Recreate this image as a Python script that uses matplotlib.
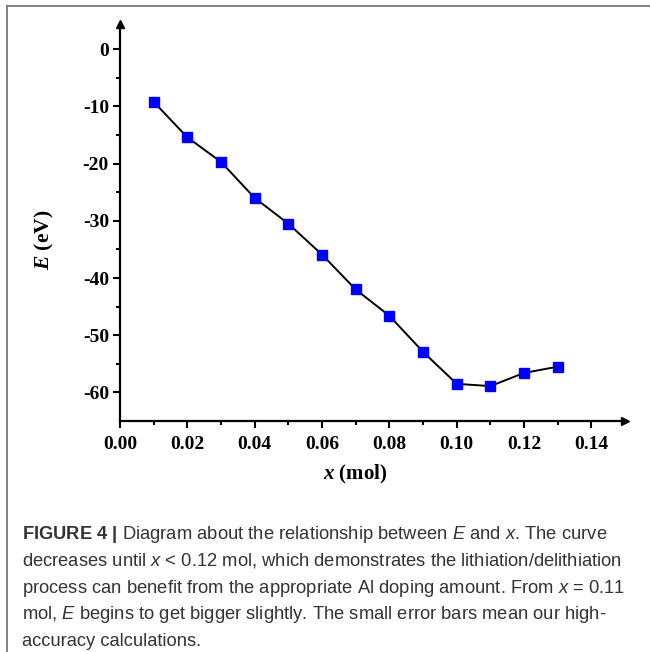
import numpy as np
import matplotlib
matplotlib.use("Agg")
import matplotlib.pyplot as plt
from matplotlib.lines import Line2D
from matplotlib.ticker import FixedLocator

# data
x_mol = [0.01, 0.02, 0.03, 0.04, 0.05, 0.06, 0.07, 0.08, 0.09, 0.10, 0.11, 0.12, 0.13]
E_eV = [-9.2, -15.4, -19.7, -26.0, -30.5, -35.9, -42.0, -46.6, -52.9, -58.5, -58.9, -56.6, -55.5]

y_ticks = [0, -10, -20, -30, -40, -50, -60]
x_ticks = [0.00, 0.02, 0.04, 0.06, 0.08, 0.10, 0.12, 0.14]

caption = [
    r"$\mathbf{FIGURE\ 4\ |}$ Diagram about the relationship between $\mathit{E}$ and $\mathit{x}$. The curve",
    r"decreases until $\mathit{x}$ < 0.12 mol, which demonstrates the lithiation/delithiation",
    r"process can benefit from the appropriate Al doping amount. From $\mathit{x}$ = 0.11",
    r"mol, $\mathit{E}$ begins to get bigger slightly. The small error bars mean our high-",
    r"accuracy calculations.",
]

plt.rcParams['axes.unicode_minus'] = False
plt.rcParams['mathtext.fontset'] = 'custom'
plt.rcParams['mathtext.rm'] = 'Liberation Sans'
plt.rcParams['mathtext.it'] = 'Liberation Sans:italic'
plt.rcParams['mathtext.bf'] = 'Liberation Sans:bold'
plt.rcParams['mathtext.bfit'] = 'Liberation Serif:bold:italic'

W, H = 650, 652
fig = plt.figure(figsize=(W / 100, H / 100), dpi=100)

# axes placed in pixel terms
L, R, T, B = 120, 625, 23.5, 421
ax = fig.add_axes([L / W, 1 - B / H, (R - L) / W, (B - T) / H])

ax.plot(x_mol, E_eV, color='black', lw=1.4, marker='s', ms=6.5,
        mfc='#0000ff', mec='#0000ff', zorder=3)

ax.set_xlim(0, 0.15)
ax.set_ylim(-65, 4.5)
ax.spines['top'].set_visible(False)
ax.spines['right'].set_visible(False)
ax.spines['left'].set_linewidth(1.6)
ax.spines['bottom'].set_linewidth(1.6)

# arrow heads on the axes
ax.plot(1, 0, '>k', ms=6, transform=ax.transAxes, clip_on=False)
ax.plot(0, 1, '^k', ms=6, transform=ax.transAxes, clip_on=False)

ax.set_xticks(x_ticks)
ax.set_xticklabels(['%.2f' % v for v in x_ticks])
ax.set_yticks(y_ticks)
ax.set_yticklabels([str(v) for v in y_ticks])
ax.xaxis.set_minor_locator(FixedLocator(np.arange(0.01, 0.14, 0.02)))
ax.yaxis.set_minor_locator(FixedLocator(np.arange(-55, 0, 10)))
ax.tick_params(which='major', length=5, width=1.5, direction='out')
ax.tick_params(which='minor', length=3, width=1.5, direction='out')
ax.tick_params(axis='x', which='major', pad=6)
ax.tick_params(axis='y', which='major', pad=3)
for lab in ax.get_xticklabels() + ax.get_yticklabels():
    lab.set_fontfamily('Liberation Serif')
    lab.set_fontweight('bold')
    lab.set_fontsize(14)

fig.text(355 / W, 1 - 474 / H, r"$\mathbfit{x}$ (mol)", ha='center', va='center',
         fontfamily='Liberation Serif', fontweight='bold', fontsize=15)
fig.text(44 / W, 1 - 240 / H, r"$\mathbfit{E}$ (eV)", ha='center', va='center',
         rotation=90, fontfamily='Liberation Serif', fontweight='bold', fontsize=15.5)

# caption
for i, line in enumerate(caption):
    fig.text(22 / W, 1 - (539 + 26.8 * i) / H, line, ha='left', va='baseline',
             fontfamily='Liberation Sans', fontsize=13.2, color='#333333')

# frame lines (top and left)
fig.add_artist(Line2D([7 / W, 1], [1 - 6 / H, 1 - 6 / H], color='#777777', lw=1.3,
                      transform=fig.transFigure))
fig.add_artist(Line2D([7 / W, 7 / W], [1 - 6 / H, 0], color='#777777', lw=1.3,
                      transform=fig.transFigure))

fig.savefig('out.png', dpi=100)
